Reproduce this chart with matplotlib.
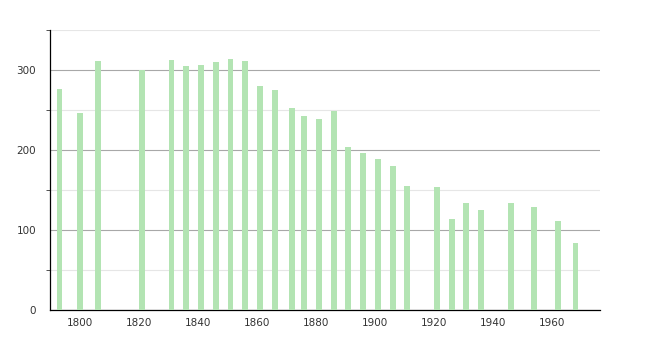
import matplotlib.pyplot as plt
from matplotlib.ticker import MultipleLocator

# census years and population
years = [1793, 1800, 1806, 1821, 1831, 1836, 1841, 1846, 1851, 1856,
         1861, 1866, 1872, 1876, 1881, 1886, 1891, 1896, 1901, 1906,
         1911, 1921, 1926, 1931, 1936, 1946, 1954, 1962, 1968]
population = [276, 246, 311, 300, 313, 305, 306, 310, 314, 311,
              280, 275, 253, 243, 239, 249, 204, 196, 189, 180,
              155, 154, 114, 134, 125, 134, 129, 111, 84]

xticks = [1800, 1820, 1840, 1860, 1880, 1900, 1920, 1940, 1960]

fig = plt.figure(figsize=(6.5, 3.4), dpi=100)
ax = fig.add_axes([0.077, 0.088, 0.846, 0.824])

ax.bar(years, population, width=2.0, color='#b3e4b3', zorder=3)

ax.set_xlim(1789.8, 1976.3)
ax.set_ylim(0, 350)

ax.yaxis.set_major_locator(MultipleLocator(100))
ax.yaxis.set_minor_locator(MultipleLocator(50))
ax.grid(axis='y', which='major', color='#a8a8a8', linewidth=0.8, zorder=1)
ax.grid(axis='y', which='minor', color='#e6e6e6', linewidth=0.8, zorder=1)

ax.set_xticks(xticks)
ax.tick_params(axis='x', length=0, labelsize=7.5, colors='#333333', pad=6)
ax.tick_params(axis='y', which='major', length=0, labelsize=7.5, labelcolor='#333333', pad=10)
ax.tick_params(axis='y', which='minor', length=3, color='#333333')

for s in ['top', 'right']:
    ax.spines[s].set_visible(False)
ax.spines['left'].set_linewidth(0.9)
ax.spines['bottom'].set_linewidth(0.9)

fig.savefig('out.png', dpi=100)
